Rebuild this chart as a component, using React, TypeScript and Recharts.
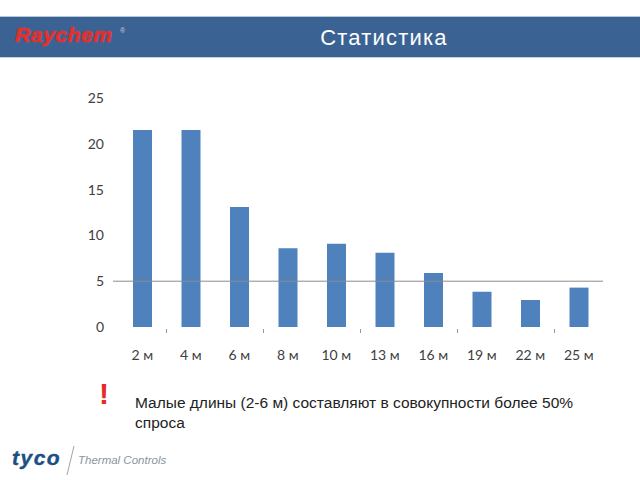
import React from 'react';
import { BarChart, Bar, XAxis, YAxis, ReferenceLine } from 'recharts';

const categories = ['2 м', '4 м', '6 м', '8 м', '10 м', '13 м', '16 м', '19 м', '22 м', '25 м'];
const values = [21.5, 21.5, 13.1, 8.6, 9.1, 8.1, 5.9, 3.85, 2.95, 4.3];
const yTicks = [0, 5, 10, 15, 20, 25];
const referenceValue = 5;
const title = 'Статистика';
const note = 'Малые длины (2-6 м) составляют в совокупности более 50% спроса';

const data = categories.map((c, i) => ({ name: c, value: values[i] }));

const XTick = (props: any) => {
  const { x, y, payload, index } = props;
  const off = payload && payload.offset ? payload.offset : 24.25;
  return (
    <g>
      {index % 2 === 0 && index < categories.length - 1 ? (
        <line x1={x + off} x2={x + off} y1={y} y2={y + 4} stroke="#999" strokeWidth={1} />
      ) : null}
      <text x={x} y={y + 31} textAnchor="middle" fontSize={14} fill="#404040" fontFamily="Lato, 'Open Sans', sans-serif">
        {payload.value}
      </text>
    </g>
  );
};

const RefShape = (props: any) => {
  const { x1, x2, y1, y2 } = props;
  return <line x1={x1 - 5} x2={x2} y1={y1} y2={y2} stroke="#8c8c8c" strokeWidth={1} />;
};

export default function App() {
  return (
    <div style={{ position: 'absolute', left: 0, top: 0, width: 640, height: 480, background: '#fff', overflow: 'hidden', fontFamily: "'Liberation Sans', Arial, sans-serif" }}>
      {/* header band */}
      <div style={{ position: 'absolute', left: 0, top: 16, width: 640, height: 1, background: '#b8c8dc' }} />
      <div style={{ position: 'absolute', left: 0, top: 17, width: 640, height: 40, background: '#3a6393' }} />
      <div style={{ position: 'absolute', left: 0, top: 57, width: 640, height: 1, background: '#c5d3e3' }} />
      <div style={{ position: 'absolute', left: 15, top: 24, lineHeight: '22px', color: '#e0312e', fontWeight: 900, fontStyle: 'italic', fontSize: 21, letterSpacing: 0.6, WebkitTextStroke: '0.7px #e0312e', fontFamily: "'Liberation Sans', Arial, sans-serif", whiteSpace: 'nowrap' }}>
        Raychem
      </div>
      <div style={{ position: 'absolute', left: 120, top: 27, fontSize: 7, color: '#ccd', lineHeight: '8px' }}>®</div>
      <div style={{ position: 'absolute', left: 0, width: 768, top: 25, lineHeight: '25px', textAlign: 'center', color: '#fff', fontSize: 22, letterSpacing: 1.2 }}>{title}</div>

      <div style={{ position: 'absolute', left: 0, top: 0 }}>
        <BarChart width={640} height={480} data={data} margin={{ top: 98, right: 37, left: 0, bottom: 123 }} barSize={19}>
          <YAxis
            domain={[0, 25]}
            ticks={yTicks}
            width={118}
            axisLine={false}
            tickLine={false}
            tickSize={0}
            tickMargin={14}
            tick={{ fontSize: 14, fill: '#404040', fontFamily: "Lato, 'Open Sans', sans-serif" }}
          />
          <XAxis dataKey="name" axisLine={false} tickLine={false} tickSize={0} height={30} tick={<XTick />} interval={0} />
          <ReferenceLine y={referenceValue} stroke="#8c8c8c" shape={<RefShape />} />
          <Bar dataKey="value" fill="#4f81bd" isAnimationActive={false} />
        </BarChart>
      </div>

      {/* note */}
      <div style={{ position: 'absolute', left: 99, top: 377, color: '#e8282b', fontSize: 30, fontWeight: 700 }}>!</div>
      <div style={{ position: 'absolute', left: 135, top: 393, width: 460, color: '#222', fontSize: 15.5, lineHeight: '20px' }}>{note}</div>

      {/* footer logo */}
      <div style={{ position: 'absolute', left: 12, top: 446, lineHeight: '24px', color: '#1d4f86', fontSize: 21, fontWeight: 900, fontStyle: 'italic', letterSpacing: 1.5, WebkitTextStroke: '0.4px #1d4f86' }}>tyco</div>
      <svg style={{ position: 'absolute', left: 0, top: 0 }} width={640} height={480}>
        <line x1={74} y1={446} x2={67} y2={475} stroke="#9aa4ae" strokeWidth={1} />
      </svg>
      <div style={{ position: 'absolute', left: 78, top: 454, color: '#8a949e', fontSize: 11.5, fontStyle: 'italic' }}>Thermal Controls</div>
    </div>
  );
}
